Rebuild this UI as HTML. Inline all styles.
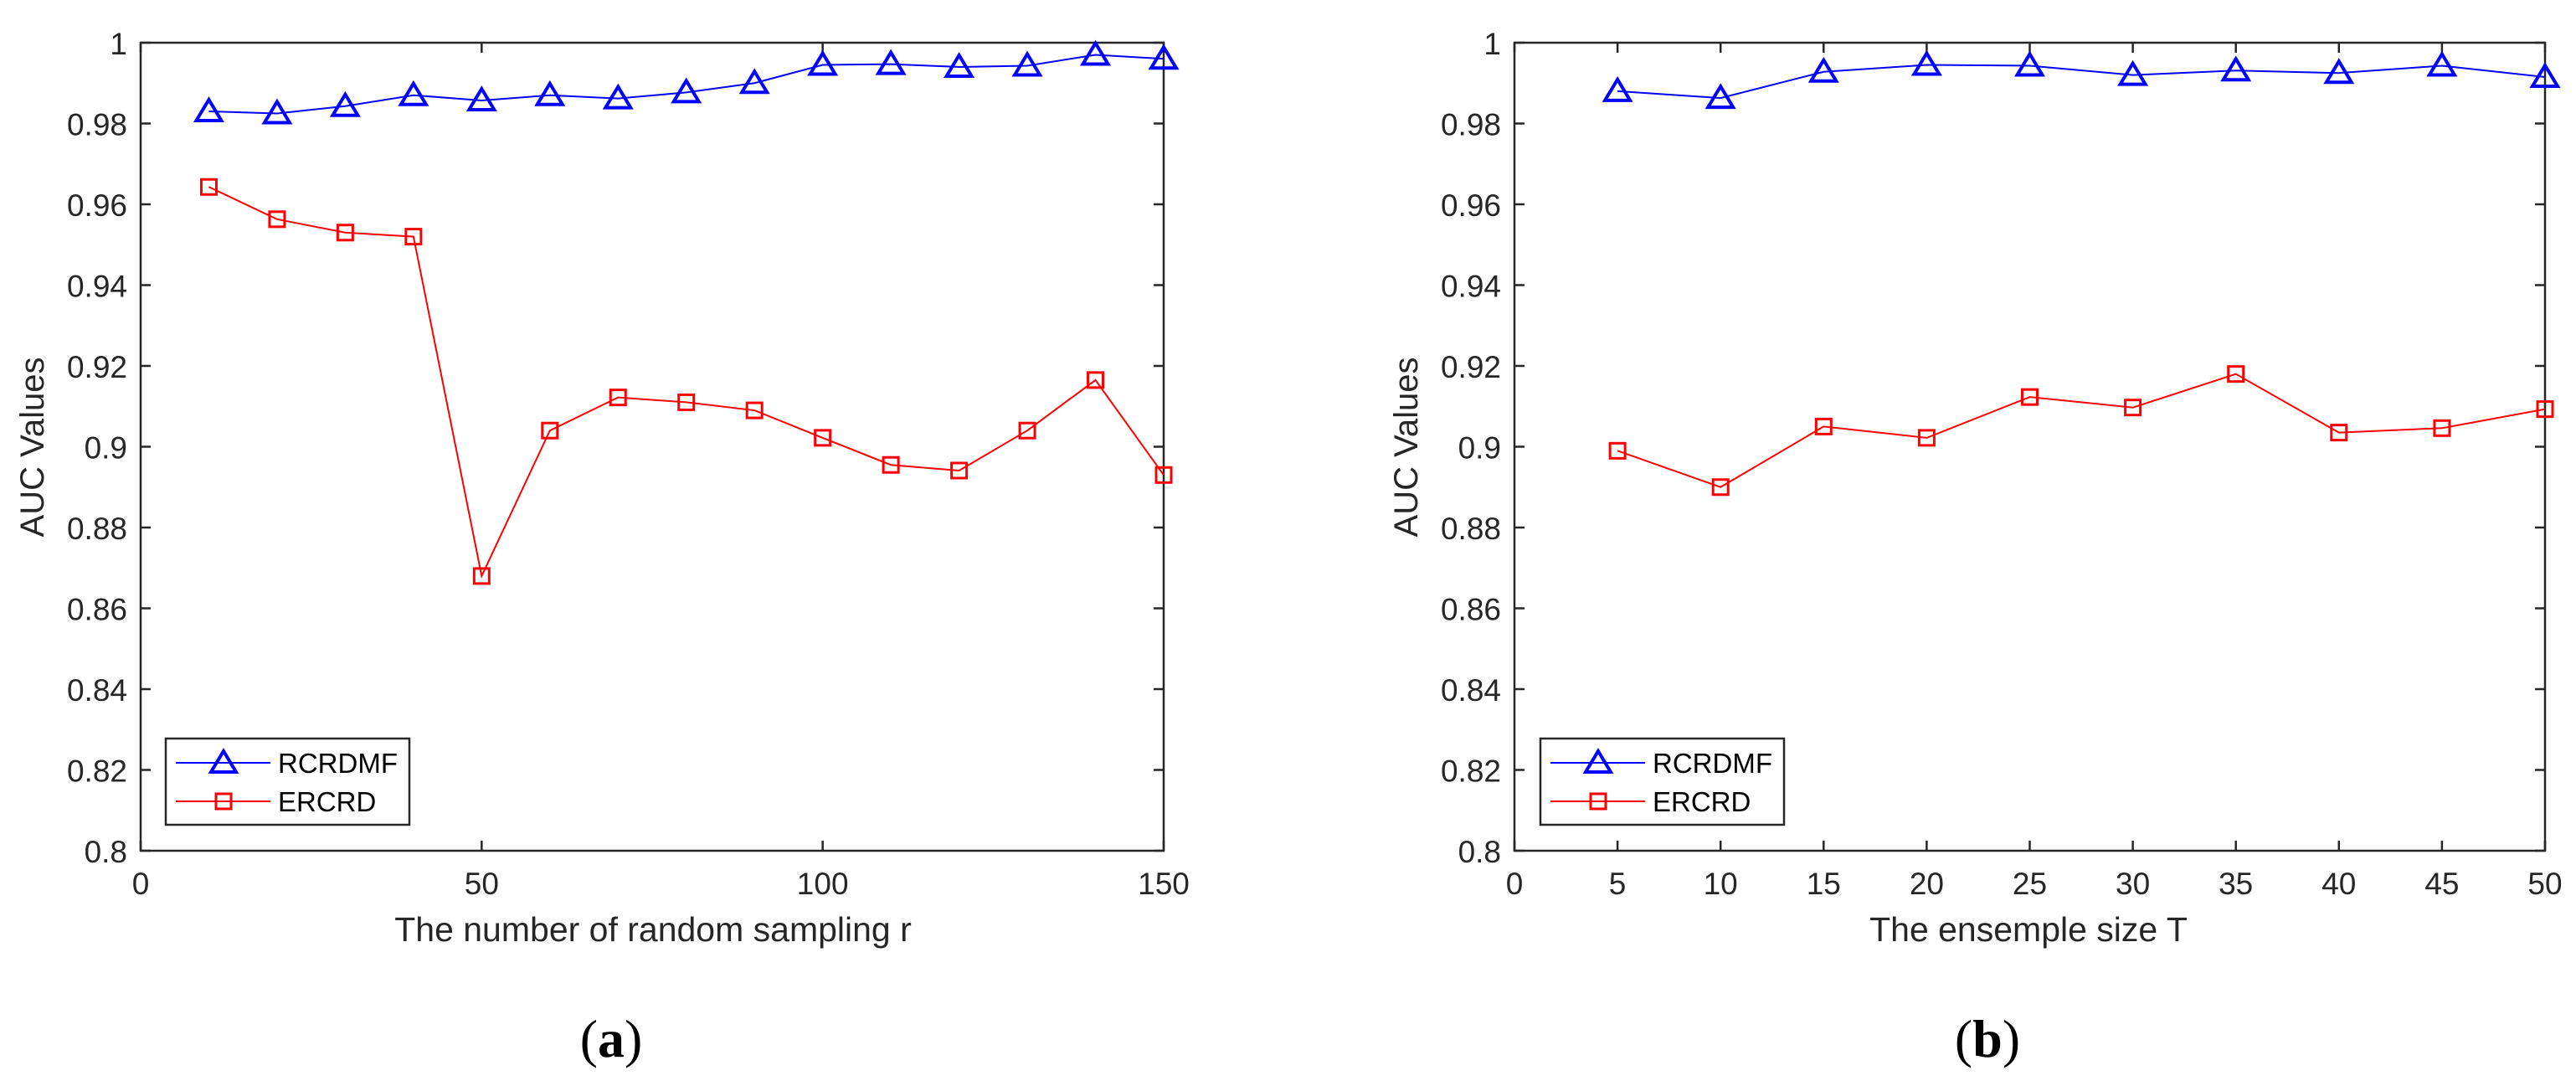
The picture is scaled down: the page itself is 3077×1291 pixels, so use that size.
<!DOCTYPE html>
<html><head><meta charset="utf-8">
<style>
html,body{margin:0;padding:0;background:#fff;}
svg{display:block;}
text{font-family:"Liberation Sans",sans-serif;fill:#262626;}
</style></head>
<body>
<svg id="fig" width="3077" height="1291" viewBox="0 0 3077 1291" xmlns="http://www.w3.org/2000/svg"></svg>
<script>
const leftX = [10,20,30,40,50,60,70,80,90,100,110,120,130,140,150];
const leftRCRDMF = [0.983,0.9825,0.9843,0.987,0.9857,0.987,0.9862,0.9877,0.990,0.9945,0.9947,0.994,0.9943,0.997,0.996];
const leftERCRD = [0.9643,0.9563,0.953,0.952,0.868,0.904,0.9122,0.911,0.909,0.9022,0.8955,0.8941,0.904,0.9165,0.893];
const leftXTicks = [0,50,100,150];
const rightX = [5,10,15,20,25,30,35,40,45,50];
const rightRCRDMF = [0.988,0.9863,0.9928,0.9945,0.9943,0.992,0.9931,0.9925,0.9943,0.9915];
const rightERCRD = [0.899,0.890,0.905,0.9022,0.9123,0.9097,0.918,0.9035,0.9046,0.9093];
const rightXTicks = [0,5,10,15,20,25,30,35,40,45,50];
const yTicks = [0.8,0.82,0.84,0.86,0.88,0.9,0.92,0.94,0.96,0.98,1];
const yTickLabels = ["0.8","0.82","0.84","0.86","0.88","0.9","0.92","0.94","0.96","0.98","1"];

const NS="http://www.w3.org/2000/svg";
const svg=document.getElementById('fig');
function el(tag,attrs,parent){const e=document.createElementNS(NS,tag);for(const k in attrs)e.setAttribute(k,attrs[k]);(parent||svg).appendChild(e);return e;}

function drawPanel(cfg){
  const g=el('g',{});
  
  
  const L=cfg.x0,R=cfg.x1,T=51,B=1016;
  const xs=v=>L+(v-cfg.xmin)/(cfg.xmax-cfg.xmin)*(R-L);
  const ys=v=>B-(v-0.8)/0.2*(B-T);
  const box=el('rect',{x:L,y:T,width:R-L,height:B-T,fill:'none',stroke:'#262626','stroke-width':2.5},g);
  
  
  yTicks.forEach((v,i)=>{
    const y=ys(v);
    el('line',{x1:L,y1:y,x2:L+12,y2:y,stroke:'#262626','stroke-width':2.5},g);
    el('line',{x1:R,y1:y,x2:R-12,y2:y,stroke:'#262626','stroke-width':2.5},g);
    const t=el('text',{x:L-16,y:y+14,'text-anchor':'end','font-size':37},g);
    t.textContent=yTickLabels[i];
    
    
  });
  cfg.xticks.forEach(v=>{
    const x=xs(v);
    el('line',{x1:x,y1:B,x2:x,y2:B-12,stroke:'#262626','stroke-width':2.5},g);
    el('line',{x1:x,y1:T,x2:x,y2:T+12,stroke:'#262626','stroke-width':2.5},g);
    const t=el('text',{x:x,y:1068,'text-anchor':'middle','font-size':37},g);
    t.textContent=String(v);
    
    
  });
  const yt=el('text',{x:0,y:0,'text-anchor':'middle','font-size':40,transform:`translate(${cfg.ylabelX},534) rotate(-90)`},g);
  yt.textContent='AUC Values';
  
  
  const xt=el('text',{x:cfg.xlabelX,y:1124,'text-anchor':'middle','font-size':41},g);
  xt.textContent=cfg.xlabel;
  
  
  const cap=el('text',{x:cfg.capX,y:1262,'text-anchor':'middle','font-size':64,style:'font-family:"Liberation Serif",serif;fill:#000'},g);
  cap.innerHTML='(<tspan font-weight="bold">'+cfg.cap+'</tspan>)';
  
  
  function tri(x,y,parent){return el('path',{d:`M${x} ${y-14} L${x+15} ${y+11} L${x-15} ${y+11} Z`,fill:'none',stroke:'#0000ff','stroke-width':4},parent);}
  function sq(x,y,parent){return el('rect',{x:x-9,y:y-9,width:18,height:18,fill:'none',stroke:'#ff0000','stroke-width':3},parent);}
  const blue=el('polyline',{points:cfg.xv.map((v,i)=>xs(v)+','+ys(cfg.a[i])).join(' '),fill:'none',stroke:'#0000ff','stroke-width':2},g);
  
  
  cfg.xv.forEach((v,i)=>{const m=tri(xs(v),ys(cfg.a[i]),g);
    
    });
  const red=el('polyline',{points:cfg.xv.map((v,i)=>xs(v)+','+ys(cfg.b[i])).join(' '),fill:'none',stroke:'#ff0000','stroke-width':2},g);
  
  
  cfg.xv.forEach((v,i)=>{const m=sq(xs(v),ys(cfg.b[i]),g);
    
    });
  const lg=el('g',{},g);
  
  
  const lx=cfg.legX;
  el('rect',{x:lx,y:882,width:291,height:103,fill:'#fff',stroke:'#262626','stroke-width':2.5},lg);
  el('line',{x1:lx+12,y1:911,x2:lx+125,y2:911,stroke:'#0000ff','stroke-width':2},lg);
  tri(lx+69,911,lg);
  const t1=el('text',{x:lx+134,y:923,'font-size':33,style:'fill:#000'},lg);t1.textContent='RCRDMF';
  
  
  el('line',{x1:lx+12,y1:957,x2:lx+125,y2:957,stroke:'#ff0000','stroke-width':2},lg);
  sq(lx+69,957,lg);
  const t2=el('text',{x:lx+134,y:969,'font-size':33,style:'fill:#000'},lg);t2.textContent='ERCRD';
  
  
}
drawPanel({name:'panel-a',x0:168,x1:1390,xmin:0,xmax:150,xticks:leftXTicks,xv:leftX,a:leftRCRDMF,b:leftERCRD,
  ylabelX:52,xlabelX:780,xlabel:'The number of random sampling r',capX:730,cap:'a',legX:198});
drawPanel({name:'panel-b',x0:1809,x1:3040,xmin:0,xmax:50,xticks:rightXTicks,xv:rightX,a:rightRCRDMF,b:rightERCRD,
  ylabelX:1693,xlabelX:2423,xlabel:'The ensemple size T',capX:2374,cap:'b',legX:1840});
</script>
</body></html>
